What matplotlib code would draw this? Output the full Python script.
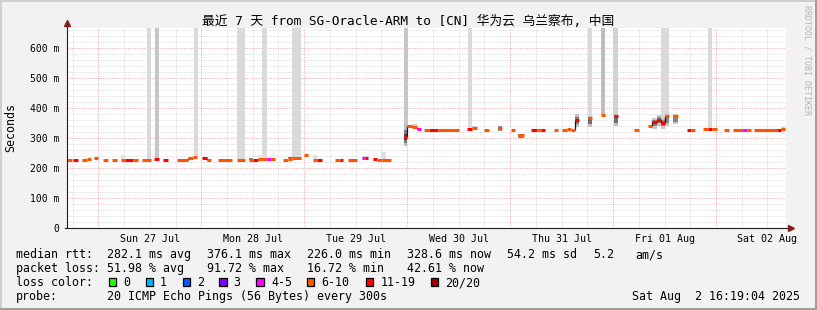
import matplotlib
matplotlib.use("Agg")
import numpy as np
import matplotlib.pyplot as plt
from matplotlib.patches import Rectangle

W, H, DPI = 817, 310, 100
MONO = ["DejaVu Sans Mono", "Noto Sans CJK SC"]

# ---------------- data (time in hours relative to Sun 27 Jul 00:00) ----------------
loss_labels = ["0", "1", "2", "3", "4-5", "6-10", "11-19", "20/20"]
loss_colors = ["#26ff00", "#00b8ff", "#0059ff", "#7e00ff", "#ff00ff", "#ff5500", "#ff0000", "#a10000"]

seg_start = [-7.29, -5.89, -3.80, -2.63, -1.00, 1.10, 3.19, 5.29, 6.22, 8.09, 10.18, 12.98, 15.08,
             18.34, 20.90, 22.07, 24.16, 25.33, 27.89, 32.32, 35.11, 36.05, 37.21, 39.31, 40.24,
             43.04, 44.20, 45.13, 47.93, 50.02, 50.96, 55.15, 56.32, 58.18, 61.44, 62.14, 64.01,
             64.94, 66.10, 71.23, 71.93, 73.09, 74.26, 75.89, 77.05, 79.15, 85.91, 87.07, 89.87,
             93.13, 96.16, 97.79, 100.82, 102.22, 103.15, 106.18, 108.04, 109.21, 110.14, 111.07,
             114.10, 117.13, 120.16, 124.82, 128.08, 129.01, 130.18, 131.11, 132.04, 133.90,
             137.17, 138.10, 140.89, 142.06, 142.99, 145.78, 147.88, 149.98, 151.14, 152.78,
             158.14, 159.07]
seg_end = [-6.13, -4.73, -2.63, -1.70, -0.07, 2.26, 4.36, 6.22, 8.09, 9.25, 12.28, 14.14, 16.24,
           20.90, 22.07, 23.00, 25.33, 26.26, 31.15, 34.18, 36.05, 37.21, 39.31, 40.24, 41.17,
           44.20, 45.13, 47.23, 48.86, 50.96, 52.12, 56.32, 57.02, 60.28, 62.14, 62.84, 64.94,
           66.10, 68.20, 71.93, 73.09, 74.26, 75.19, 77.05, 79.15, 84.04, 87.07, 88.24, 91.03,
           94.06, 97.09, 99.19, 102.22, 103.15, 104.08, 107.11, 109.21, 110.14, 111.07, 112.00,
           115.03, 118.06, 121.09, 125.98, 129.01, 130.18, 131.11, 132.04, 132.97, 135.07,
           138.10, 139.03, 142.06, 142.99, 144.15, 146.95, 149.98, 151.14, 152.08, 158.14,
           159.07, 160.00]
seg_ms = [226, 226, 226, 230, 233, 226, 226, 226, 226, 226, 226, 229, 228,
          226, 232, 236, 232, 226, 226, 228, 226, 226, 231, 229, 230,
          226, 230, 233, 242, 226, 226, 226, 226, 226, 232, 232, 229,
          227, 226, 302, 341, 336, 329, 326, 326, 326, 331, 332, 326,
          332, 328, 310, 326, 326, 326, 326, 326, 330, 327, 361,
          366, 375, 372, 328, 339, 352, 361, 351, 374, 372,
          327, 328, 329, 331, 330, 327, 327, 327, 327, 327,
          328, 330]
seg_loss = [5, 6, 5, 5, 5, 5, 5, 5, 6, 5, 5, 6, 6,
            5, 5, 5, 6, 5, 5, 5, 5, 6, 5, 4, 5,
            5, 5, 5, 5, 5, 6, 5, 6, 5, 4, 6, 6,
            5, 5, 6, 5, 5, 4, 5, 6, 5, 6, 5, 5,
            5, 5, 5, 6, 5, 6, 5, 5, 5, 5, 6,
            5, 5, 6, 5, 5, 6, 6, 6, 5, 5,
            6, 5, 5, 6, 5, 5, 5, 4, 5, 5,
            6, 5]

smoke_start = [11.35, 13.21, 22.30, 32.32, 38.14, 45.13, 71.23, 86.14, 114.10, 117.13, 119.92, 131.11, 142.06,
               5.29, 35.11, 37.21, 44.20, 50.02, 61.44, 65.87, 71.23, 71.23, 71.23, 73.09, 87.07, 93.13,
               97.79, 111.07, 111.07, 114.10, 114.10, 120.16, 120.16, 129.01, 129.01, 130.18, 130.18,
               131.11, 131.11, 132.04, 132.04, 133.90, 133.90, 159.07]
smoke_end = [12.28, 14.14, 23.23, 34.18, 39.31, 47.23, 72.16, 87.07, 115.03, 118.06, 121.09, 132.97, 142.99,
             6.22, 36.05, 39.31, 47.23, 50.96, 62.84, 67.03, 71.93, 71.93, 71.93, 74.26, 88.24, 94.06,
             99.19, 112.00, 112.00, 115.03, 115.03, 121.09, 121.09, 130.18, 130.18, 131.11, 131.11,
             132.04, 132.04, 132.97, 132.97, 135.07, 135.07, 160.00]
smoke_lo = [229, 229, 236, 228, 231, 233, 340, 332, 366, 375, 372, 355, 331,
            230, 228, 232, 233, 230, 233, 230, 272, 284, 294, 336, 332, 322,
            300, 335, 345, 335, 345, 340, 350, 330, 340, 340, 348,
            330, 340, 340, 350, 345, 352, 330]
smoke_hi = [700, 700, 700, 700, 700, 700, 700, 700, 700, 700, 700, 700, 700,
            243, 234, 244, 236, 244, 240, 252, 345, 325, 312, 345, 338, 340,
            313, 378, 370, 372, 368, 378, 372, 365, 358, 375, 368,
            365, 358, 382, 376, 380, 376, 337]
smoke_shade = ["#dadada", "#c6c6c6", "#dadada", "#dadada", "#dadada", "#dadada", "#c6c6c6", "#dadada",
               "#dadada", "#bdbdbd", "#d2d2d2", "#dadada", "#dadada",
               "#e0e0e0", "#8a8a8a", "#e2e2e2", "#6e6e6e", "#e0e0e0", "#d8d8d8", "#dedede",
               "#bcbcbc", "#7a7a7a", "#444444", "#d6d6d6", "#d6d6d6", "#8e8e8e",
               "#8a8a8a", "#c0c0c0", "#7a7a7a", "#c0c0c0", "#6e6e6e", "#c0c0c0", "#707070",
               "#c8c8c8", "#858585", "#c8c8c8", "#858585", "#c8c8c8", "#858585", "#c8c8c8",
               "#858585", "#c8c8c8", "#858585", "#d8d8d8"]

day_labels = ["Sun 27 Jul", "Mon 28 Jul", "Tue 29 Jul", "Wed 30 Jul", "Thu 31 Jul", "Fri 01 Aug", "Sat 02 Aug"]
day_label_hours = [12, 36, 60, 84, 108, 132, 156]
y_ticks = [0, 100, 200, 300, 400, 500, 600]
y_tick_labels = ["0", "100 m", "200 m", "300 m", "400 m", "500 m", "600 m"]

x_min, x_max = -7.3, 160.32
y_max = 665

# ---------------- figure ----------------
fig = plt.figure(figsize=(W / DPI, H / DPI), dpi=DPI)
fig.patch.set_facecolor("#f2f2f2")

def fx(px):
    return px / W

def fy(py):
    return 1 - py / H

ax = fig.add_axes([fx(67), fy(228.3), (786 - 67) / W, (228.3 - 28) / H])
ax.set_facecolor("white")
ax.set_xlim(x_min, x_max)
ax.set_ylim(0, y_max)
for s in ax.spines.values():
    s.set_visible(False)

# grid
grid_c = (0.56, 0.56, 0.56, 0.42)
mgrid_c = (0.87, 0.31, 0.31, 0.5)
dots = (0, (1.0, 1.4))
minor_x = [h for h in np.arange(-6, 161, 6) if h % 24 != 0]
major_x = list(np.arange(0, 161, 24))
minor_y = [v for v in range(20, y_max, 20) if v % 100 != 0]
major_y = list(range(100, y_max, 100))
ax.vlines(minor_x, 0, y_max, colors=[grid_c], linewidth=0.6, linestyles=[dots], zorder=1)
ax.hlines(minor_y, x_min, x_max, colors=[grid_c], linewidth=0.6, linestyles=[dots], zorder=1)
ax.vlines(major_x, 0, y_max, colors=[mgrid_c], linewidth=0.7, linestyles=[dots], zorder=1)
ax.hlines(major_y, x_min, x_max, colors=[mgrid_c], linewidth=0.7, linestyles=[dots], zorder=1)

# smoke
s0 = np.array(smoke_start); s1 = np.array(smoke_end)
lo = np.array(smoke_lo); hi = np.array(smoke_hi)
ax.bar(s0, hi - lo, width=s1 - s0, bottom=lo, align="edge", color=smoke_shade, linewidth=0, zorder=2)

# step connectors of median line
for i in range(len(seg_ms) - 1):
    if abs(seg_end[i] - seg_start[i + 1]) < 0.01 and abs(seg_ms[i + 1] - seg_ms[i]) > 4:
        ax.vlines(seg_start[i + 1], min(seg_ms[i], seg_ms[i + 1]), max(seg_ms[i], seg_ms[i + 1]),
                  colors="#1a1a1a", linewidth=0.9, zorder=3)

# median segments coloured by loss
ax.hlines(seg_ms, seg_start, seg_end, colors=[loss_colors[k] for k in seg_loss],
          linewidth=2.2, capstyle="butt", zorder=4)

# axes lines + arrows
ax.plot([x_min, x_min], [0, 683], color="#1f1f1f", lw=0.8, clip_on=False, zorder=5)
ax.plot([x_min - 0.4, 161.3], [0, 0], color="#1f1f1f", lw=0.8, clip_on=False, zorder=5)
ax.plot([x_min], [683], marker="^", ms=4.2, color="#801f1f", clip_on=False, zorder=6)
ax.plot([161.6], [0], marker=">", ms=4.2, color="#801f1f", clip_on=False, zorder=6)

# ticks
ax.set_xticks(day_label_hours)
ax.set_xticklabels(day_labels, family=MONO, fontsize=7.2)
ax.set_yticks(y_ticks)
ax.set_yticklabels(y_tick_labels, family=MONO, fontsize=7.0)
ax.tick_params(axis="x", length=0, pad=4.2)
ax.tick_params(axis="y", length=0, pad=5.5)

# title & labels
fig.text(fx(408), fy(21), "最近 7 天 from SG-Oracle-ARM to [CN] 华为云 乌兰察布, 中国",
         ha="center", va="center", fontsize=9.2, family=MONO)
fig.text(fx(11), fy(128), "Seconds", rotation=90, ha="center", va="center", fontsize=8.4, family=MONO)
fig.text(fx(807), fy(60), "RRDTOOL / TOBI OETIKER", rotation=-90, ha="center", va="center",
         fontsize=6.0, family=MONO, color="#b4b4b4")

# legend lines
row1 = [(16, "median rtt:"), (107, "282.1 ms avg"), (207, "376.1 ms max"), (307, "226.0 ms min"),
        (407, "328.6 ms now"), (507, "54.2 ms sd"), (593, "5.2"), (635, "am/s")]
row2 = [(16, "packet loss:"), (107, "51.98 % avg"), (207, "91.72 % max"), (307, "16.72 % min"),
        (407, "42.61 % now")]
for x, t in row1:
    fig.text(fx(x), fy(254.5), t, ha="left", va="center", fontsize=8.4, family=MONO)
for x, t in row2:
    fig.text(fx(x), fy(268.5), t, ha="left", va="center", fontsize=8.4, family=MONO)
fig.text(fx(16), fy(282.5), "loss color:", ha="left", va="center", fontsize=8.4, family=MONO)
box_x = [108.7, 145.7, 182.7, 219.3, 256, 306.7, 365.7, 430.7]
lab_x = [123, 160, 197, 233, 271, 321, 381, 445]
for bx, lx, c, lab in zip(box_x, lab_x, loss_colors, loss_labels):
    fig.add_artist(Rectangle((fx(bx), fy(285.5)), 7.5 / W, 7.5 / H, transform=fig.transFigure,
                             facecolor=c, edgecolor="black", linewidth=0.9))
    fig.text(fx(lx), fy(282.5), lab, ha="left", va="center", fontsize=8.4, family=MONO)
fig.text(fx(16), fy(296.5), "probe:", ha="left", va="center", fontsize=8.4, family=MONO)
fig.text(fx(107), fy(296.5), "20 ICMP Echo Pings (56 Bytes) every 300s", ha="left", va="center",
         fontsize=8.4, family=MONO)
fig.text(fx(800), fy(296.5), "Sat Aug  2 16:19:04 2025", ha="right", va="center", fontsize=8.4, family=MONO)

# 3D frame
fig.add_artist(Rectangle((0, fy(2)), 1, 2 / H, transform=fig.transFigure, facecolor="#cfcfcf", lw=0))
fig.add_artist(Rectangle((0, 0), 2 / W, 1, transform=fig.transFigure, facecolor="#cfcfcf", lw=0))
fig.add_artist(Rectangle((0, 0), 1, 2 / H, transform=fig.transFigure, facecolor="#9e9e9e", lw=0))
fig.add_artist(Rectangle((1 - 2 / W, 0), 2 / W, 1, transform=fig.transFigure, facecolor="#9e9e9e", lw=0))

fig.savefig("out.png", dpi=DPI, facecolor=fig.get_facecolor())
